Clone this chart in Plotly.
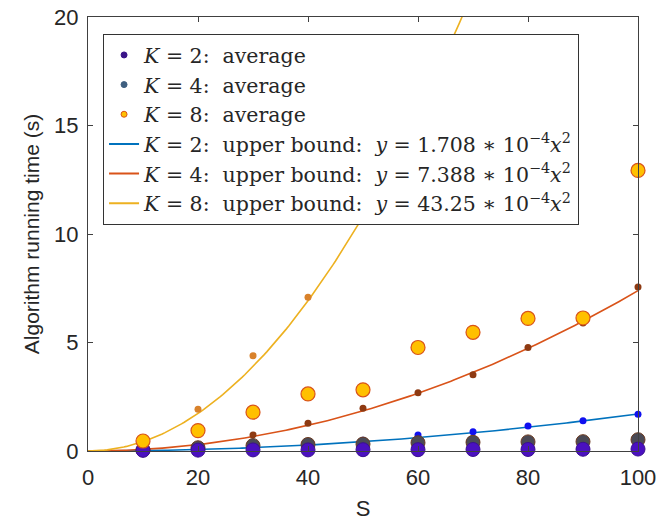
import plotly.graph_objects as go
import numpy as np

S = [10, 20, 30, 40, 50, 60, 70, 80, 90, 100]
avg_k2 = [0.03, 0.04, 0.05, 0.05, 0.06, 0.06, 0.07, 0.07, 0.08, 0.09]
avg_k4 = [0.05, 0.15, 0.25, 0.3, 0.32, 0.38, 0.4, 0.42, 0.43, 0.52]
avg_k8 = [0.46, 0.94, 1.79, 2.63, 2.82, 4.77, 5.47, 6.11, 6.13, 12.93]
max_k2 = [0.02, 0.08, 0.2, 0.43, 0.5, 0.74, 0.89, 1.15, 1.39, 1.69]
max_k4 = [0.07, 0.3, 0.74, 1.28, 1.97, 2.69, 3.51, 4.77, 5.9, 7.56]
S_k8max = [10, 20, 30, 40, 50, 60]
max_k8 = [0.45, 1.92, 4.39, 7.08, 10.8, 15.5]
coef = {"2": 1.708e-4, "4": 7.388e-4, "8": 43.25e-4}
coef_txt = {"2": "1.708", "4": "7.388", "8": "43.25"}
line_col = {"2": "#0072BD", "4": "#D95319", "8": "#EDB120"}

fig = go.Figure()
xs = np.linspace(0, 100, 201)

# upper bound curves (from legend coefficients)
for k in ["2", "4", "8"]:
    fig.add_trace(go.Scatter(x=xs, y=coef[k] * xs ** 2, mode="lines",
                             line=dict(color=line_col[k], width=1.6), showlegend=False))

# maxima (small dots on curves)
fig.add_trace(go.Scatter(x=S, y=max_k2, mode="markers", cliponaxis=False,
                         marker=dict(size=7, color="#1010F0"), showlegend=False))
fig.add_trace(go.Scatter(x=S, y=max_k4, mode="markers", cliponaxis=False,
                         marker=dict(size=7, color="#8E3A12"), showlegend=False))
fig.add_trace(go.Scatter(x=S_k8max, y=max_k8, mode="markers", cliponaxis=False,
                         marker=dict(size=7, color="#D9822B"), showlegend=False))

# averages (big circles)
fig.add_trace(go.Scatter(x=S, y=avg_k4, mode="markers", cliponaxis=False,
                         marker=dict(size=14, color="#4a4a55", line=dict(color="#6b3a20", width=1)),
                         showlegend=False))
fig.add_trace(go.Scatter(x=S, y=avg_k2, mode="markers", cliponaxis=False,
                         marker=dict(size=14, color="#4a10c0", line=dict(color="#3a0f90", width=1)),
                         showlegend=False))
fig.add_trace(go.Scatter(x=S, y=avg_k8, mode="markers", cliponaxis=False,
                         marker=dict(size=14, color="#FFC000", line=dict(color="#D95319", width=1.2)),
                         showlegend=False))

# legend entries
leg_marker = [("2", "#3a1488", "#3a1488"), ("4", "#3f5f80", "#3f5f80"), ("8", "#FFC000", "#D95319")]
for k, c, e in leg_marker:
    fig.add_trace(go.Scatter(x=[None], y=[None], mode="markers",
                             marker=dict(size=6, color=c, line=dict(color=e, width=1)),
                             name=f"<i>K</i> = {k}:  average"))
for k in ["2", "4", "8"]:
    fig.add_trace(go.Scatter(x=[None], y=[None], mode="lines",
                             line=dict(color=line_col[k], width=2),
                             name=f"<i>K</i> = {k}:  upper bound:  <i>y</i> = {coef_txt[k]} ∗ 10<sup>−4</sup><i>x</i><sup>2</sup>"))

axis_common = dict(showline=True, linecolor="#404040", linewidth=1.2, mirror="ticks",
                   ticks="inside", ticklen=5, tickcolor="#404040", showgrid=False, zeroline=False,
                   automargin=False,
                   tickfont=dict(family="Liberation Sans, Arial", size=22, color="#262626"))

fig.update_layout(
    width=663, height=523,
    margin=dict(l=88, r=25, t=17, b=72),
    paper_bgcolor="white", plot_bgcolor="white",
    xaxis=dict(range=[0, 100], tickvals=[0, 20, 40, 60, 80, 100], ticklabelstandoff=6,
               title=dict(text="S", font=dict(family="Liberation Sans, Arial", size=22, color="#262626"),
                          standoff=12), **axis_common),
    yaxis=dict(range=[0, 20], tickvals=[0, 5, 10, 15, 20], ticklabelstandoff=4,
               title=dict(text="Algorithm running time (s)",
                          font=dict(family="Liberation Sans, Arial", size=21, color="#262626"),
                          standoff=8), **axis_common),
    legend=dict(x=0.027, y=0.961, xanchor="left", yanchor="top",
                bgcolor="white", bordercolor="#333333", borderwidth=1.2,
                font=dict(family="DejaVu Serif", size=20.5, color="#262626"),
                tracegroupgap=0, itemwidth=30),
)

fig.write_html("out.html")
